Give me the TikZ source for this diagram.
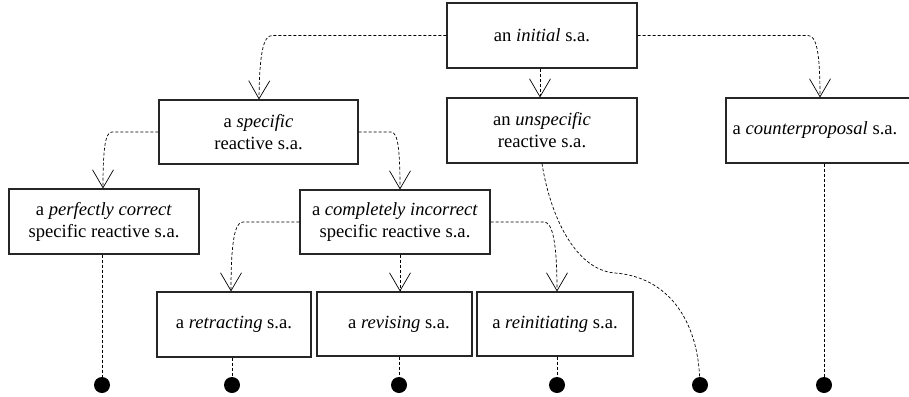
\documentclass[tikz,border=0pt]{standalone}
\usepackage{fontspec}
\setmainfont{Liberation Serif}
\usetikzlibrary{arrows.meta,calc}

\tikzset{
  sabox/.style={draw=black!85, line width=1.1pt, rectangle, align=center,
    inner sep=0pt, font=\rmfamily\fontsize{18.6}{22}\selectfont},
  satext/.style={inner sep=0pt, font=\rmfamily\fontsize{18.6}{22}\selectfont},
  conn/.style={line width=0.7pt, dash pattern=on 3pt off 2pt,
    -{Straight Barb[length=18pt,width=21pt,line width=0.7pt]}},
  tail/.style={line width=0.7pt, dash pattern=on 3pt off 2pt},
  enddot/.style={circle, fill=black, inner sep=0pt, minimum size=16pt}
}

\begin{document}
\begin{tikzpicture}[x=1pt,y=-1pt]
\useasboundingbox (0,0) rectangle (909,396);

% boxes
\node[sabox, minimum width=190pt, minimum height=65pt] (init) at (542,35.5) {an \emph{initial} s.a.};
\node[sabox, minimum width=199pt, minimum height=64pt] (spec) at (258.5,132) {a \emph{specific}\\reactive s.a.};
\node[sabox, minimum width=190pt, minimum height=65pt] (unspec) at (542,130.5) {an \emph{unspecific}\\reactive s.a.};
\node[sabox, minimum width=190pt, minimum height=65pt] (counter) at (821,130.5) {};
\node[satext] (countertxt) at (815,130.5) {a \emph{counterproposal} s.a.};
\node[sabox, minimum width=190pt, minimum height=65pt] (perf) at (104,221.5) {a \emph{perfectly correct}\\specific reactive s.a.};
\node[sabox, minimum width=190pt, minimum height=64pt] (ci) at (395,222) {a \emph{completely incorrect}\\specific reactive s.a.};
\node[sabox, minimum width=154pt, minimum height=65pt] (retr) at (234,324.5) {a \emph{retracting} s.a.};
\node[sabox, minimum width=155pt, minimum height=64pt] (rev) at (394.5,324) {};
\node[satext] (revtxt) at (399,324) {a \emph{revising} s.a.};
\node[sabox, minimum width=156pt, minimum height=64pt] (reinit) at (555,324) {a \emph{reinitiating} s.a.};

% end points
\node[enddot] (d1) at (102,385) {};
\node[enddot] (d2) at (232,385) {};
\node[enddot] (d3) at (399,385) {};
\node[enddot] (d4) at (557,385) {};
\node[enddot] (d5) at (700,385) {};
\node[enddot] (d6) at (824,385) {};

% arrows from the initial act
\draw[conn] (init.west) -- (272,35.5) .. controls (263,35.5) and (259.5,55) .. (spec.north -| 259,0);
\draw[conn] (init.south -| 540,0) -- (unspec.north -| 540,0);
\draw[conn] (init.east) -- (808,35.5) .. controls (817,35.5) and (820,55) .. (counter.north -| 820,0);

% arrows from the specific reactive act
\draw[conn] (spec.west) -- (112,132) .. controls (105,132) and (103,150) .. (perf.north -| 103,0);
\draw[conn] (spec.east) -- (391,132) .. controls (398,132) and (400,150) .. (ci.north -| 400,0);

% arrows from the completely incorrect act
\draw[conn] (ci.west) -- (243,222) .. controls (235,222) and (231,240) .. (retr.north -| 231,0);
\draw[conn] (ci.south -| 400,0) -- (rev.north -| 400,0);
\draw[conn] (ci.east) -- (544,222) .. controls (552,222) and (557,240) .. (reinit.north -| 557,0);

% tails down to the end points
\draw[tail] (perf.south -| d1) -- (d1);
\draw[tail] (retr.south -| d2) -- (d2);
\draw[tail] (rev.south -| d3) -- (d3);
\draw[tail] (reinit.south -| d4) -- (d4);
\draw[tail] (unspec.south) .. controls (550,215) and (575,270) .. (615,273)
  .. controls (668,277) and (697,320) .. (d5);
\draw[tail] (counter.south -| d6) -- (d6);
\end{tikzpicture}
\end{document}
